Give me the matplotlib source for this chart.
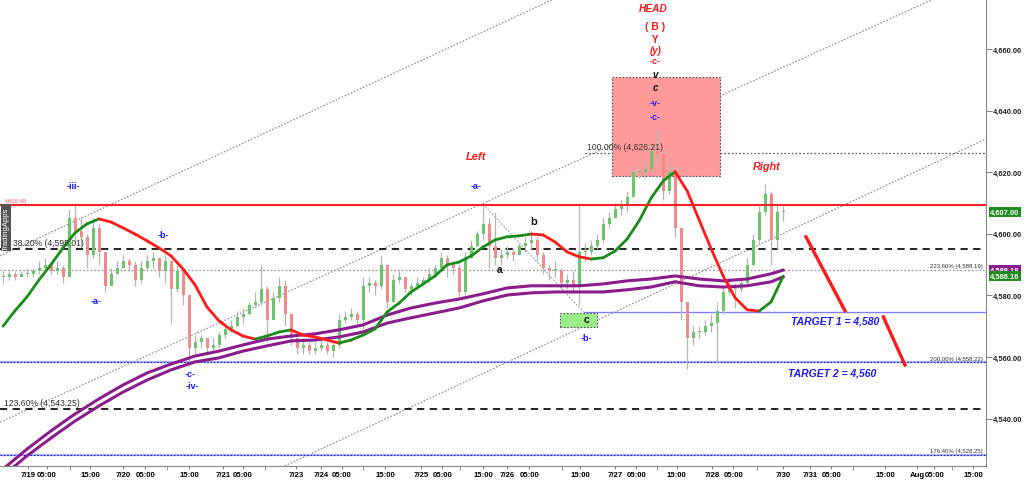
import numpy as np
import matplotlib
matplotlib.use("Agg")
from matplotlib import pyplot as plt
from matplotlib.collections import LineCollection
from matplotlib.patches import Rectangle

plt.rcParams['font.family'] = ['Liberation Sans', 'DejaVu Sans']

# ---------------- price bars (one bar per slot, open = previous close)
closes = [4586, 4587, 4586, 4587, 4587, 4588, 4589, 4590, 4588, 4589,
          4586, 4605, 4601, 4599, 4593, 4602, 4594, 4583, 4587, 4589,
          4591, 4590, 4585, 4589, 4591, 4592, 4588, 4591, 4582, 4588,
          4580, 4563, 4565, 4566, 4563, 4564, 4567, 4569, 4570, 4573,
          4574, 4577, 4578, 4582, 4572, 4579, 4583, 4574, 4566, 4563,
          4564, 4562, 4563, 4564, 4562, 4564, 4572, 4573, 4574, 4572,
          4583, 4584, 4583, 4590, 4578, 4585, 4586, 4582, 4583, 4584,
          4585, 4587, 4589, 4592, 4590, 4589, 4581, 4592, 4596, 4600,
          4603, 4596, 4592, 4593, 4594, 4593, 4596, 4597, 4598, 4593,
          4589, 4588, 4588, 4584, 4585, 4583, 4594, 4594, 4596, 4598,
          4603, 4605, 4608, 4609, 4612, 4620, 4620, 4621, 4627, 4626,
          4614, 4620, 4602, 4578, 4566, 4568, 4568, 4570, 4571, 4575,
          4581, 4583, 4582, 4584, 4590, 4598, 4607, 4613, 4598, 4607,
          4607]
highs = [4588, 4588, 4588, 4588, 4589, 4589, 4591, 4592, 4591, 4591,
         4590, 4608, 4610, 4605, 4600, 4605, 4603, 4594, 4589, 4591,
         4593, 4592, 4591, 4591, 4593, 4594, 4592, 4593, 4591, 4590,
         4588, 4580, 4567, 4567, 4566, 4566, 4568, 4571, 4572, 4575,
         4576, 4578, 4581, 4590, 4583, 4581, 4586, 4585, 4574, 4566,
         4566, 4565, 4565, 4566, 4565, 4565, 4574, 4575, 4576, 4575,
         4586, 4586, 4585, 4593, 4590, 4587, 4588, 4585, 4584, 4586,
         4586, 4589, 4590, 4594, 4593, 4591, 4590, 4594, 4598, 4601,
         4609, 4605, 4607, 4595, 4596, 4595, 4597, 4599, 4601, 4599,
         4594, 4590, 4591, 4589, 4587, 4588, 4610, 4597, 4598, 4600,
         4605, 4607, 4610, 4611, 4614, 4622, 4622, 4623, 4629, 4634,
         4627, 4623, 4622, 4602, 4578, 4570, 4570, 4572, 4574, 4578,
         4583, 4586, 4584, 4586, 4592, 4600, 4609, 4616, 4614, 4610,
         4609]
lows = [4584, 4585, 4585, 4586, 4586, 4586, 4587, 4588, 4587, 4587,
        4584, 4586, 4597, 4596, 4589, 4592, 4590, 4581, 4584, 4587,
        4589, 4588, 4583, 4584, 4588, 4589, 4586, 4584, 4571, 4581,
        4577, 4557, 4561, 4563, 4561, 4562, 4563, 4566, 4568, 4570,
        4571, 4574, 4576, 4577, 4565, 4574, 4578, 4570, 4564, 4561,
        4561, 4561, 4561, 4562, 4561, 4560, 4563, 4571, 4572, 4570,
        4569, 4581, 4580, 4582, 4576, 4578, 4584, 4581, 4580, 4582,
        4583, 4584, 4586, 4588, 4586, 4587, 4579, 4580, 4592, 4596,
        4598, 4589, 4590, 4590, 4592, 4591, 4593, 4594, 4595, 4591,
        4587, 4585, 4586, 4582, 4582, 4581, 4577, 4591, 4593, 4595,
        4597, 4602, 4605, 4606, 4607, 4612, 4618, 4618, 4620, 4623,
        4611, 4613, 4599, 4572, 4556, 4564, 4566, 4567, 4568, 4558,
        4574, 4580, 4576, 4581, 4583, 4590, 4597, 4606, 4590, 4595,
        4604]

# ---------------- smoothed average (every 2nd bar), green rising / red falling
ma_idx = list(range(0, 131, 2))
ma_vals = [4570.0, 4575.0, 4579.5, 4585.0, 4590.0, 4595.4, 4600.3, 4603.2, 4604.8, 4603.8,
           4601.9, 4599.9, 4597.7, 4595.4, 4592.8, 4588.6, 4583.4, 4576.2, 4571.7, 4568.8,
           4566.8, 4565.8, 4566.8, 4568.1, 4568.8, 4567.1, 4566.5, 4565.5, 4564.5, 4565.5,
           4567.1, 4569.1, 4574.6, 4577.5, 4581.1, 4583.7, 4586.3, 4589.9, 4590.8, 4592.8,
           4595.7, 4598.0, 4599.0, 4599.3, 4599.9, 4599.6, 4597.3, 4594.1, 4592.5, 4591.8,
           4592.2, 4594.4, 4598.3, 4604.2, 4611.6, 4617.1, 4620.1, 4613.9, 4604.5, 4595.1,
           4586.3, 4579.2, 4575.3, 4574.9, 4577.9, 4586.2]

# ---------------- purple envelope (every 4th bar + last)
band_idx = list(range(0, 129, 4)) + [130]
band_up = [4523.6, 4530.1, 4536.0, 4541.5, 4546.4, 4550.9, 4554.8, 4557.7, 4560.3, 4561.9,
           4563.9, 4565.8, 4566.8, 4567.5, 4568.8, 4570.4, 4573.6, 4575.9, 4577.5, 4578.8,
           4580.5, 4582.4, 4583.1, 4583.1, 4583.1, 4583.7, 4584.7, 4585.3, 4586.3, 4585.3,
           4584.7, 4585.3, 4587.0, 4588.2]
band_lo = [4521.4, 4527.9, 4533.7, 4539.2, 4544.1, 4548.6, 4552.5, 4555.8, 4558.4, 4559.7,
           4561.9, 4563.6, 4565.2, 4565.5, 4566.5, 4568.1, 4571.0, 4572.7, 4574.3, 4575.9,
           4578.2, 4580.1, 4580.8, 4581.1, 4581.1, 4581.1, 4581.8, 4582.7, 4584.4, 4583.1,
           4582.7, 4583.1, 4584.4, 4586.0]

# ---------------- levels
resist = 4609.48
fib_100 = 4626.21
fib_382 = 4595.01
fib_2236 = 4588.19
target1 = 4574.6
fib_200 = 4558.22
fib_1236 = 4543.25
fib_1764 = 4528.25

# trend channel anchors (bar, price)
channels = [((-0.5, 4592.8), (30.7, 4621.0)),
            ((32.0, 4567.5), (97.0, 4624.9)),
            ((97.0, 4570.1), (163.8, 4630.8))]
wave_link = ([80.0, 96.7], [4609.7, 4574.6])
proj1 = ([133.8, 140.3], [4599.0, 4575.0])
proj2 = ([146.7, 150.3], [4573.0, 4557.4])

# x axis labels
tick_pos = [4.2, 7.3, 14.5, 20.0, 23.7, 31.0, 36.7, 40.0, 48.8, 53.0, 56.5, 63.7, 69.7, 73.2,
            80.0, 84.0, 87.7, 96.2, 102.0, 105.5, 112.3, 118.2, 121.7, 130.0, 134.5, 138.0,
            147.0, 152.3, 155.2, 161.7]
tick_lab = ['7/19', '05:00', '15:00', '7/20', '05:00', '15:00', '7/21', '05:00', '7/23', '7/24',
            '05:00', '15:00', '7/25', '05:00', '15:00', '7/26', '05:00', '15:00', '7/27', '05:00',
            '15:00', '7/28', '05:00', '7/30', '7/31', '05:00', '15:00', 'Aug', '05:00', '15:00']
minor_pos = [11.2, 27.3, 43.7, 60.0, 76.2, 93.2, 109.0, 125.7, 141.7, 158.2]

fig = plt.figure(figsize=(10.24, 4.81), dpi=100)
ax = fig.add_axes([0, 14 / 481, 986 / 1024, 467 / 481])
ax.set_xlim(-0.5, 163.8)
ax.set_ylim(4524.6, 4676.2)

# ======================== channels and levels
for p1, p2 in channels:
    ax.axline(p1, p2, color='#888888', lw=0.8, linestyle=(0, (1.5, 1.5)), zorder=1)
ax.plot(*wave_link, color='#999999', lw=0.8, linestyle=(0, (1.5, 1.5)), zorder=1)

ax.axhline(fib_382, xmax=0.997, color='#111111', lw=1.3, linestyle=(0, (4, 3)), zorder=1)
ax.axhline(fib_1236, xmax=0.997, color='#111111', lw=1.3, linestyle=(0, (4, 3)), zorder=1)
ax.axhline(fib_2236, color='#999999', lw=0.9, linestyle=(0, (1.5, 1.5)), zorder=1)
ax.hlines(fib_100, 97.0, 163.8, color='#666666', lw=0.9, linestyle=(0, (1.5, 1.5)), zorder=1)
for lvl in [fib_200, fib_1764]:
    ax.axhline(lvl, color='#aab4ff', lw=1.6, zorder=1)
    ax.axhline(lvl, color='#2020c0', lw=0.8, linestyle=(0, (1.5, 1.5)), zorder=1)
ax.hlines(target1, 96.7, 163.8, color='#8080ff', lw=1.0, zorder=1)

# boxes
ax.add_patch(Rectangle((101.5, 4618.8), 18.0, 32.1, facecolor='#ff9a9a', edgecolor='#555555',
                       lw=0.8, linestyle=(0, (1.5, 1.5)), zorder=1))
ax.add_patch(Rectangle((92.8, 4569.7), 6.2, 4.6, facecolor='#99ee88', edgecolor='#555555',
                       lw=0.8, linestyle=(0, (1.5, 1.5)), zorder=1))

# ======================== candles
n = len(closes)
xs = np.arange(n)
opens = np.r_[closes[0], closes[:-1]]
closes_a = np.array(closes)
up = closes_a >= opens
ax.vlines(xs, lows, highs, color='#b5b5b5', lw=0.9, zorder=2)
bottoms = np.minimum(opens, closes_a)
heights = np.maximum(np.abs(closes_a - opens), 0.4)
ax.bar(xs[up], heights[up], bottom=bottoms[up], width=0.5, color='#6cc46c', zorder=3)
ax.bar(xs[~up], heights[~up], bottom=bottoms[~up], width=0.5, color='#f28a8a', zorder=3)

# ======================== purple envelope
ax.plot(band_idx, band_up, color='#8b1c8b', lw=2.2, zorder=4)
ax.plot(band_idx, band_lo, color='#8b1c8b', lw=2.2, zorder=4)

# ======================== smoothed average coloured by slope
pts = np.column_stack([ma_idx, ma_vals])
segs = np.stack([pts[:-1], pts[1:]], axis=1)
cols = ['#1a8c1a' if b >= a else '#ff1a1a' for a, b in zip(ma_vals[:-1], ma_vals[1:])]
ax.add_collection(LineCollection(segs, colors=cols, linewidths=2.0, zorder=5,
                                 capstyle='round', joinstyle='round'))

# resistance and projection
ax.axhline(resist, color='#ff2020', lw=1.5, zorder=5)
ax.plot(*proj1, color='#ff1a1a', lw=2.4, zorder=6)
ax.plot(*proj2, color='#ff1a1a', lw=2.4, zorder=6)

# ======================== wave labels
blue = '#1a1aff'
red = '#ff1a1a'
def lab(x, y, s, c, size=6.5, style='normal', weight='bold'):
    ax.text(x, y, s, color=c, fontsize=size, fontstyle=style, fontweight=weight,
            ha='center', va='center', zorder=7)

lab(11.7, 4615.5, '-iii-', blue)
lab(26.8, 4599.9, '-b-', blue)
lab(15.5, 4578.2, '-a-', blue)
lab(31.2, 4554.5, '-c-', blue)
lab(31.5, 4550.6, '-iv-', blue)
lab(78.8, 4615.5, '-a-', blue)
lab(78.8, 4625.3, 'Left', red, 8, 'italic')
lab(88.5, 4604.2, 'b', '#111111', 8)
lab(82.8, 4588.6, 'a', '#111111', 7.5)
lab(97.2, 4572.2, 'c', '#111111', 7.5)
lab(97.2, 4566.2, '-b-', blue)
lab(108.3, 4673.3, 'HEAD', red, 7.3, 'italic')
lab(108.6, 4667.5, '( B )', red, 7.5)
lab(108.7, 4663.3, 'Y', red, 7)
lab(108.7, 4659.7, '(y)', red, 7, 'italic')
lab(108.7, 4656.1, '-c-', red)
lab(108.7, 4651.9, 'v', '#111111', 7, 'italic')
lab(108.7, 4647.7, 'c', '#111111', 7, 'italic')
lab(108.7, 4642.5, '-v-', blue)
lab(108.7, 4638.2, '-c-', blue)
lab(127.3, 4622.0, 'Right', red, 7.8, 'italic')
lab(138.7, 4571.7, 'TARGET 1 = 4,580', blue, 7.5, 'italic')
lab(138.2, 4555.1, 'TARGET 2 = 4,560', blue, 7.5, 'italic')

# level captions
ax.text(1.6, fib_382 + 0.6, '38.20% (4,595.01)', fontsize=6.2, color='#333333', va='bottom', zorder=7)
ax.text(0.2, fib_1236 + 0.6, '123.60% (4,543.25)', fontsize=6.2, color='#333333', va='bottom', zorder=7)
ax.text(97.3, fib_100 + 0.5, '100.00% (4,626.21)', fontsize=6.2, color='#333333', va='bottom', zorder=7)
for lvl, s in [(fib_2236, '223.60% (4,588.19)'), (fib_200, '200.00% (4,558.22)'),
               (fib_1764, '176.40% (4,528.25)')]:
    ax.text(163.2, lvl + 0.6, s, fontsize=4.3, color='#333333', ha='right', va='bottom', zorder=7)
ax.text(0.2, resist + 0.6, '4,609.48', fontsize=4.3, color='#ff6060', va='bottom', zorder=7)
ax.text(0.006, 0.51, 'TradingApps', transform=ax.transAxes, rotation=90, fontsize=5.5,
        color='white', ha='center', va='center', zorder=8,
        bbox=dict(boxstyle='square,pad=0.25', facecolor='#555555', edgecolor='none'))

# right-hand price tags
for val, txt, c in [(4607.0, '4,607.00', '#1e8c1e'), (4588.18, '4,588.18', '#8b1c8b'),
                    (4586.16, '4,586.16', '#1e8c1e')]:
    ax.annotate(txt, xy=(1.0, val), xycoords=('axes fraction', 'data'), xytext=(3, 0),
                textcoords='offset points', fontsize=5.4, color='white', va='center', ha='left',
                fontweight='bold', annotation_clip=False, zorder=9,
                bbox=dict(boxstyle='square,pad=0.2', facecolor=c, edgecolor='none'))

# ======================== axes decoration
ax.yaxis.tick_right()
ax.set_yticks([4540, 4560, 4580, 4600, 4620, 4640, 4660])
ax.set_yticklabels(['{:,.2f}'.format(v) for v in ax.get_yticks()])
ax.tick_params(axis='y', labelsize=5.4, length=4, color='#888888', labelcolor='#222222', pad=1)
for lbl in ax.get_yticklabels():
    lbl.set_fontweight('bold')
ax.set_xticks(tick_pos)
ax.set_xticklabels(tick_lab)
ax.set_xticks(minor_pos, minor=True)
ax.tick_params(axis='x', which='major', labelsize=5.6, length=2, color='#888888', pad=1.5)
ax.tick_params(axis='x', which='minor', length=3, color='#888888')
for lbl in ax.get_xticklabels():
    lbl.set_fontweight('bold')
ax.spines['left'].set_visible(False)
ax.spines['top'].set_visible(False)
ax.spines['right'].set_color('#888888')
ax.spines['bottom'].set_color('#888888')

fig.savefig('out.png', dpi=100)
